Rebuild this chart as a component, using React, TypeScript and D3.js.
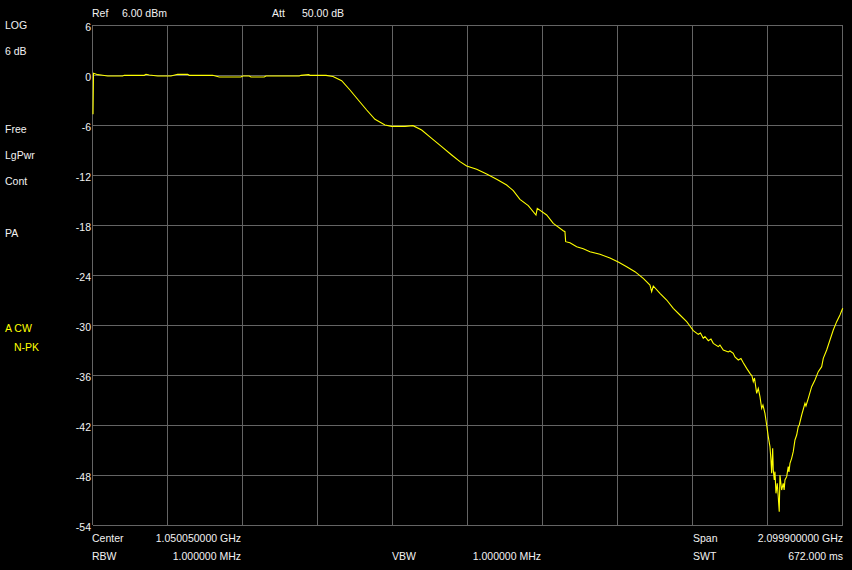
import React from "react";
import * as d3 from "d3";

const W = 852;
const H = 570;

const centerMHz = 1050.05;
const spanMHz = 2099.9;
const refLevel = 6;
const dbPerDiv = 6;
const yTicks = [6, 0, -6, -12, -18, -24, -30, -36, -42, -48, -54];
const xDivisions = 10;

const leftLabels = ["LOG", "6 dB", "Free", "LgPwr", "Cont", "PA"];
const traceLabels = ["A CW", "N-PK"];

// trace: frequency (MHz) and level (dBm)
const freqs = [
  0.1, 1.5, 13.2, 22.4, 41.2, 83.2, 87.6, 143.6, 148.4, 157.6, 181.2, 218.4, 237.2, 265.2, 269.6,
  335.2, 353.6, 414.4, 419.2, 437.6, 442.4, 479.6, 484.4, 577.6, 582.4, 604, 607.6, 652.4, 672,
  696.3, 719.6, 742.8, 766.3, 789.6, 817.6, 836.3, 873.6, 896, 920.3, 948.3, 976.3, 1004.3, 1027.6,
  1046.3, 1074.3, 1102.3, 1130.3, 1158.3, 1176.8, 1195.5, 1218.8, 1240.4, 1244, 1270.3, 1288.8,
  1316.8, 1321.5, 1323.5, 1335.5, 1354.3, 1372.8, 1391.5, 1419.5, 1447.5, 1470.8, 1494.3, 1517.5,
  1540.8, 1559.5, 1564.3, 1568.8, 1587.5, 1606.3, 1624.8, 1643.5, 1662.3, 1671.5, 1680.8, 1694.8,
  1700.9, 1708.8, 1713.5, 1722.8, 1730.3, 1736.8, 1750.8, 1755.5, 1764.8, 1778.8, 1783.5, 1792.8,
  1797.5, 1806.8, 1814.3, 1820.8, 1830.3, 1839.5, 1845.2, 1848.8, 1852.2, 1858.3, 1862.8, 1867.5,
  1872.3, 1875.9, 1881.5, 1886.3, 1890.8, 1895.5, 1898.3, 1900.3, 1903.1, 1904.8, 1907.6, 1909.5,
  1912.3, 1915.9, 1918.7, 1921.5, 1923.5, 1928.2, 1932.7, 1935.2, 1937.5, 1942.3, 1946.7, 1948.7,
  1951.5, 1956.2, 1960.7, 1965.5, 1970.3, 1974.7, 1977.5, 1984.3, 1993.5, 1996.3, 2002.8, 2012.3,
  2021.5, 2030.8, 2040.3, 2044.8, 2054.3, 2063.5, 2072.8, 2082.3, 2091.5, 2099.2,
];
const levels = [
  -4.72, 0.2, 0.04, 0.0, -0.12, -0.12, -0.04, -0.04, 0.08, 0.0, -0.12, -0.12, 0.08, 0.08, -0.04,
  -0.04, -0.24, -0.24, -0.12, -0.12, -0.24, -0.24, -0.12, -0.12, -0.04, 0.04, -0.04, -0.04, -0.18,
  -0.68, -1.8, -3.0, -4.2, -5.32, -6.0, -6.16, -6.16, -6.08, -6.6, -7.6, -8.6, -9.6, -10.4,
  -10.92, -11.32, -11.88, -12.52, -13.2, -13.88, -14.92, -15.68, -16.8, -16.0, -16.8, -17.8,
  -18.68, -18.8, -20.0, -20.12, -20.6, -20.84, -21.2, -21.52, -21.96, -22.44, -23.0, -23.6,
  -24.4, -25.2, -26.0, -25.32, -26.2, -27.0, -28.0, -28.8, -29.6, -30.12, -30.68, -31.12,
  -30.96, -31.6, -31.38, -31.88, -31.68, -32.2, -32.6, -32.4, -33.0, -33.24, -33.12, -33.4,
  -33.84, -34.2, -34.02, -34.52, -35.2, -35.8, -36.12, -36.8, -36.36, -38.2, -37.6, -38.6,
  -40.0, -39.6, -40.6, -42.0, -43.4, -44.6, -46.2, -47.8, -44.8, -47.4, -48.6, -47.6,
  -50.2, -49.0, -50.6, -52.4, -48.0, -49.8, -49.0, -49.8, -48.6, -48.2, -47.0, -47.64,
  -46.6, -46.0, -45.2, -43.8, -43.2, -42.2, -42.0, -40.8, -39.4, -39.72, -38.8, -37.4,
  -36.6, -35.6, -35.0, -34.0, -33.0, -31.8, -30.6, -29.6, -28.8, -28.0,
];

const FONT = "'Liberation Sans', Arial, sans-serif";
const TEXT = "#f2f2f2";
const YELLOW = "#ffff00";
const GRID = "#646464";

export default function App() {
  const left = 93;
  const right = 843;
  const top = 25;
  const bottom = 525;
  const startF = centerMHz - spanMHz / 2;
  const stopF = centerMHz + spanMHz / 2;
  const x = d3.scaleLinear().domain([startF, stopF]).range([left, right]);
  const y = d3
    .scaleLinear()
    .domain([refLevel - dbPerDiv * 10, refLevel])
    .range([bottom, top]);

  const xGrid = d3.range(xDivisions + 1).map((i) => startF + (i * spanMHz) / xDivisions);
  const pts: [number, number][] = freqs.map((f, i) => [f, levels[i]]);
  const line = d3
    .line<[number, number]>()
    .x((d) => x(d[0]))
    .y((d) => y(d[1]));

  const leftY = [29.3, 54.5, 133.3, 158.5, 185, 236.7];

  return (
    <svg
      width={W}
      height={H}
      style={{ position: "absolute", left: 0, top: 0, display: "block" }}
      fontFamily={FONT}
      fontSize={10.5}
    >
      <rect x={0} y={0} width={W} height={H} fill="#000" />
      {yTicks.map((t) => (
        <line
          key={"h" + t}
          x1={left}
          x2={right}
          y1={Math.round(y(t)) + 0.5}
          y2={Math.round(y(t)) + 0.5}
          stroke={GRID}
          strokeWidth={1}
        />
      ))}
      {xGrid.map((f, i) => (
        <line
          key={"v" + i}
          x1={Math.round(x(f)) - 0.5}
          x2={Math.round(x(f)) - 0.5}
          y1={top}
          y2={bottom}
          stroke={GRID}
          strokeWidth={1}
        />
      ))}
      {yTicks.map((t) => (
        <text key={"t" + t} x={91} y={y(t) + 5.5} textAnchor="end" fill={TEXT}>
          {t}
        </text>
      ))}
      <path d={line(pts) || ""} fill="none" stroke={YELLOW} strokeWidth={1.1} />

      {leftLabels.map((l, i) => (
        <text key={l} x={5} y={leftY[i]} fill={TEXT}>
          {l}
        </text>
      ))}
      <text x={5} y={331.7} fill={YELLOW}>
        {traceLabels[0]}
      </text>
      <text x={14} y={350.7} fill={YELLOW}>
        {traceLabels[1]}
      </text>

      <text x={92} y={16.5} fill={TEXT}>Ref</text>
      <text x={122} y={16.5} fill={TEXT}>6.00 dBm</text>
      <text x={272} y={16.5} fill={TEXT}>Att</text>
      <text x={302} y={16.5} fill={TEXT}>50.00 dB</text>

      <text x={92} y={542.3} fill={TEXT}>Center</text>
      <text x={241} y={542.3} fill={TEXT} textAnchor="end">1.050050000 GHz</text>
      <text x={92} y={560} fill={TEXT}>RBW</text>
      <text x={241} y={560} fill={TEXT} textAnchor="end">1.000000 MHz</text>
      <text x={392} y={560} fill={TEXT}>VBW</text>
      <text x={541} y={560} fill={TEXT} textAnchor="end">1.000000 MHz</text>
      <text x={693} y={542.3} fill={TEXT}>Span</text>
      <text x={843} y={542.3} fill={TEXT} textAnchor="end">2.099900000 GHz</text>
      <text x={693} y={560} fill={TEXT}>SWT</text>
      <text x={843} y={560} fill={TEXT} textAnchor="end">672.000 ms</text>
    </svg>
  );
}
